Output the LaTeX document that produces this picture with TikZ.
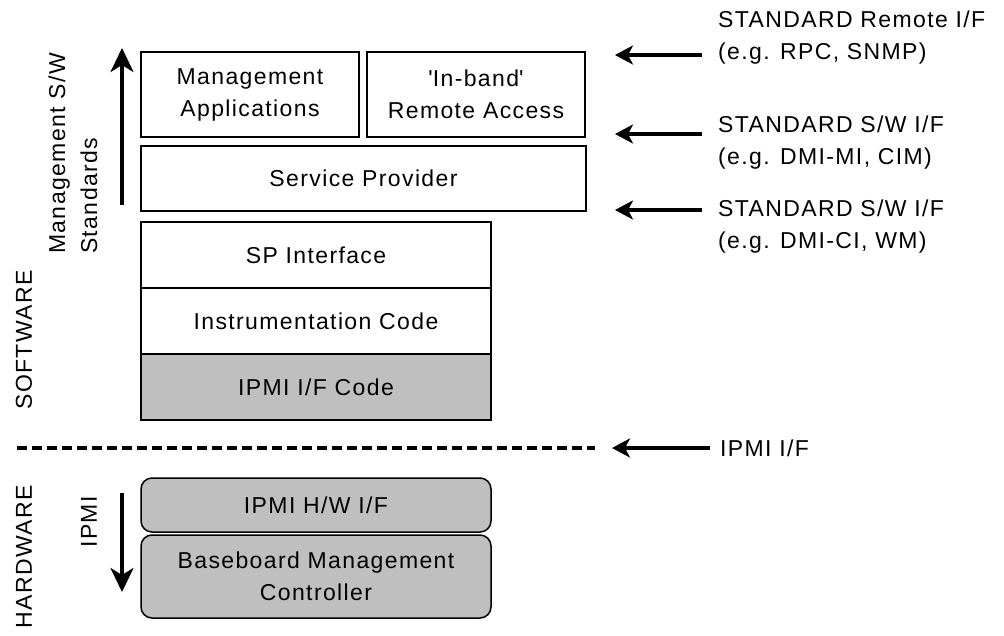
\documentclass[tikz,border=0pt]{standalone}
\usepackage{fontspec}
\setmainfont{Liberation Sans}[LetterSpace=6]
\usetikzlibrary{arrows.meta}

\begin{document}
\begin{tikzpicture}[x=1pt,y=-1pt,font=\fontsize{23}{32}\selectfont,
    layer/.style={draw,line width=1.5pt,inner sep=0pt,align=center},
    hwlayer/.style={layer,fill=black!25,rounded corners=11pt},
    sidetext/.style={rotate=90,align=left,inner sep=0pt},
    note/.style={align=left,inner sep=0pt,anchor=west},
    ifarrow/.style={line width=3.5pt,-{Stealth[length=18pt,width=19pt,inset=5pt]}},
    bigarrow/.style={line width=3.5pt,-{Stealth[length=24pt,width=23pt,inset=7pt]}}]
    \useasboundingbox (0,0) rectangle (1004,635);

    % software stack
    \node at (250,94.5) [layer,minimum width=218pt,minimum height=85pt] (mgmt) {Management\\Applications};
    \node at (476,94.5) [layer,minimum width=218pt,minimum height=85pt] (inband) {\textquotesingle In-band\textquotesingle\\Remote Access};
    \node at (363.5,178.5) [layer,minimum width=445pt,minimum height=65pt] (sp) {Service Provider};
    \node at (316,255) [layer,minimum width=350pt,minimum height=66pt] (spif) {SP Interface};
    \node at (316,321) [layer,minimum width=350pt,minimum height=66pt] (instr) {Instrumentation Code};
    \node at (316,387) [layer,fill=black!25,minimum width=350pt,minimum height=66pt] (ifcode) {IPMI I/F Code};

    % hardware
    \node at (316,505) [hwlayer,minimum width=350pt,minimum height=54pt] (hwif) {IPMI H/W I/F};
    \node at (316,576.5) [hwlayer,minimum width=350pt,minimum height=83pt] (bmc) {Baseboard Management\\Controller};

    % side labels
    \node at (73,254) [sidetext,anchor=west] (stds) {Management S/W\\Standards};
    \node at (24,340) [sidetext] (sw) {SOFTWARE};
    \node at (24,557) [sidetext] (hw) {HARDWARE};
    \node at (89,522) [sidetext] (ipmi) {IPMI};

    \coordinate (upb) at (122,205);
    \coordinate (upt) at (122,48);
    \coordinate (dnt) at (122,493);
    \coordinate (dnb) at (122,592);
    \draw[bigarrow] (upb) -- (upt);
    \draw[bigarrow] (dnt) -- (dnb);

    % boundary between software and hardware
    \coordinate (dl) at (17,448);
    \coordinate (dr) at (595,448);
    \draw[line width=3.5pt,dash pattern=on 10pt off 5pt] (dl) -- (dr);

    % interfaces on the right
    \node at (718,38) [note] (remif) {STANDARD Remote I/F\\(e.g. RPC, SNMP)};
    \node at (718,143) [note] (swif) {STANDARD S/W I/F\\(e.g. DMI-MI, CIM)};
    \node at (718,227) [note] (ciif) {STANDARD S/W I/F\\(e.g. DMI-CI, WM)};
    \node at (720,448) [note] (ipmiif) {IPMI I/F};

    \coordinate (a1) at (702,55);  \coordinate (b1) at (615,55);
    \coordinate (a2) at (702,134); \coordinate (b2) at (615,134);
    \coordinate (a3) at (702,210); \coordinate (b3) at (615,210);
    \coordinate (a4) at (710,448); \coordinate (b4) at (612,448);
    \draw[ifarrow] (a1) -- (b1);
    \draw[ifarrow] (a2) -- (b2);
    \draw[ifarrow] (a3) -- (b3);
    \draw[ifarrow] (a4) -- (b4);
\end{tikzpicture}
\end{document}
